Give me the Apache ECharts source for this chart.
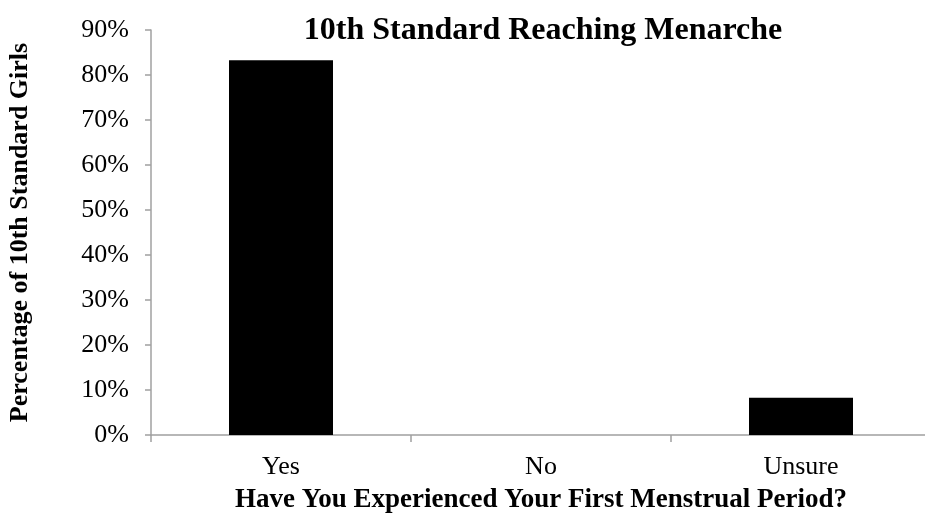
<!DOCTYPE html>
<html><head><meta charset="utf-8">
<script src="https://cdn.jsdelivr.net/npm/echarts@6/dist/echarts.min.js"></script>
<style>html,body{margin:0;padding:0;background:#fff}#c{width:925px;height:523px}</style>
</head><body><div id="c"></div>
<script>
const categories = ["Yes", "No", "Unsure"];
const values = [83.3, 0, 8.3];
const yTicks = { min: 0, max: 90, interval: 10 };
const titleText = "10th Standard Reaching Menarche";
const xName = "Have You Experienced Your First Menstrual Period?";
const yName = "Percentage of 10th Standard Girls";

const chart = echarts.init(document.getElementById('c'));
const serif = "Liberation Serif";
chart.setOption({
  animation: false,
  backgroundColor: '#fff',
  title: { text: titleText, left: 538, top: 10, textAlign: 'center',
    textStyle: { fontFamily: serif, fontWeight: 'bold', fontSize: 32, color: '#000' } },
  grid: { left: 151, top: 30, width: 780, height: 405, outerBoundsMode: 'none', containLabel: false },
  xAxis: {
    type: 'category', data: categories,
    name: xName, nameLocation: 'middle', nameGap: 52,
    nameTextStyle: { fontFamily: serif, fontWeight: 'bold', fontSize: 27, color: '#000' },
    axisLine: { lineStyle: { color: '#a0a0a0', width: 1.5 } },
    axisTick: { show: true, length: 7, lineStyle: { color: '#a0a0a0', width: 1.5 } },
    axisLabel: { fontFamily: serif, fontSize: 26, color: '#000', margin: 19 },
    splitLine: { show: false }
  },
  yAxis: {
    type: 'value', min: yTicks.min, max: yTicks.max, interval: yTicks.interval,
    name: yName, nameLocation: 'middle', nameGap: 118, nameRotate: 90,
    nameTextStyle: { fontFamily: serif, fontWeight: 'bold', fontSize: 26, color: '#000' },
    axisLine: { show: true, lineStyle: { color: '#a0a0a0', width: 1.5 } },
    axisTick: { show: true, length: 6, lineStyle: { color: '#a0a0a0', width: 1.5 } },
    axisLabel: { fontFamily: serif, fontSize: 26, color: '#000', margin: 22, formatter: v => v + '%' },
    splitLine: { show: false }
  },
  series: [{
    type: 'bar', data: values, barWidth: '40%',
    itemStyle: { color: '#000' }
  }]
});
</script></body></html>
